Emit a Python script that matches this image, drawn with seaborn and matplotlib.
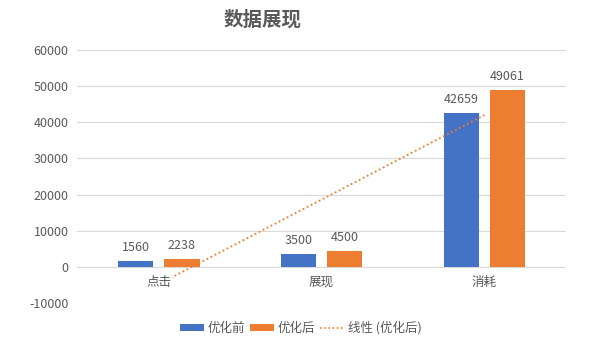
import numpy as np
import pandas as pd
import matplotlib
matplotlib.use("Agg")
import matplotlib.pyplot as plt
from matplotlib.lines import Line2D
from matplotlib.patches import Patch
import seaborn as sns

# Data
categories = ["点击", "展现", "消耗"]
before = [1560, 3500, 42659]
after = [2238, 4500, 49061]
series_names = ["优化前", "优化后"]
y_ticks = [-10000, 0, 10000, 20000, 30000, 40000, 50000, 60000]

sns.set_theme(style="white")
plt.rcParams["font.family"] = ["Noto Sans CJK SC", "DejaVu Sans"]

colors = {"优化前": "#4472C4", "优化后": "#ED7D31"}
text_gray = "#595959"
grid_gray = "#D9D9D9"

df = pd.DataFrame({
    "类别": categories * 2,
    "数值": before + after,
    "系列": [series_names[0]] * 3 + [series_names[1]] * 3,
})

fig = plt.figure(figsize=(5.98, 3.47), dpi=100)
ax = fig.add_axes([0.1288, 0.1268, 0.8177, 0.7291])

sns.barplot(data=df, x="类别", y="数值", hue="系列", order=categories,
            hue_order=series_names, palette=colors, width=0.565, gap=0.22,
            saturation=1, ax=ax, legend=False, zorder=2,
            edgecolor="none", linewidth=0)

# Linear trendline through the 优化后 series
xs = np.arange(len(categories))
slope, intercept = np.polyfit(xs, after, 1)
trend_y = slope * xs + intercept
ax.plot(xs, trend_y, linestyle=(0, (1, 1.5)), color="#ED7D31", linewidth=1.3,
        zorder=3)

# Value labels
for cont in ax.containers:
    ax.bar_label(cont, fmt="%d", padding=5, fontsize=9, color=text_gray)

ax.set_ylim(-10000, 60000)
ax.set_xlim(-0.5, 2.5)
ax.set_yticks(y_ticks)
ax.set_yticklabels([str(v) for v in y_ticks], fontsize=9, color=text_gray)
ax.tick_params(axis="y", length=0, pad=6)
ax.set_xticks([])
ax.set_xlabel("")
ax.set_ylabel("")
ax.grid(axis="y", color=grid_gray, linewidth=0.8)
ax.set_axisbelow(True)
for s in ax.spines.values():
    s.set_visible(False)

# Category labels sit just below the zero line
for i, c in enumerate(categories):
    ax.text(i, -2400, c, transform=ax.transData, ha="center", va="top",
            fontsize=9, color=text_gray, zorder=5,
            bbox=dict(facecolor="white", edgecolor="none", pad=1.0))

fig.text(263 / 598, 1 - 20 / 347, "数据展现", ha="center", va="center",
         fontsize=14, fontweight="bold", color=text_gray)

handles = [
    Patch(facecolor=colors["优化前"], edgecolor="none"),
    Patch(facecolor=colors["优化后"], edgecolor="none"),
    Line2D([], [], linestyle=(0, (1, 1.5)), color="#ED7D31", linewidth=1.2),
]
labels = ["优化前", "优化后", "线性 (优化后)"]
fig.legend(handles, labels, loc="center", bbox_to_anchor=(301 / 598, 1 - 328 / 347),
           ncol=3, frameon=False, fontsize=9, handlelength=1.9, handleheight=0.5,
           handletextpad=0.3, columnspacing=0.4, labelcolor=text_gray)

fig.savefig("out.png", dpi=100, facecolor="white")
